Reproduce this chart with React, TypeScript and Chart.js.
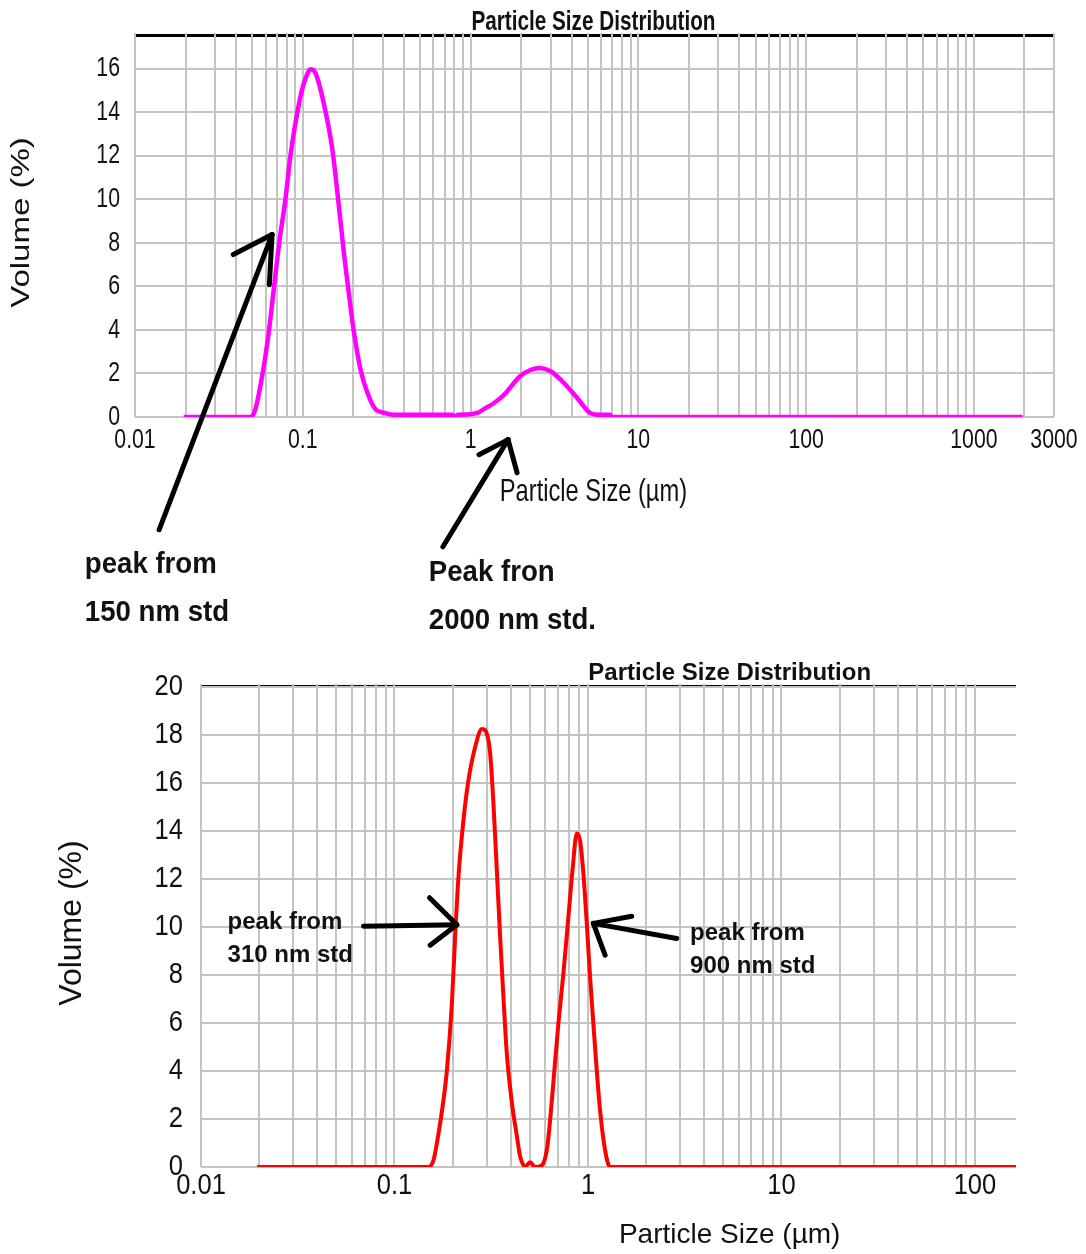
import React, { useEffect, useRef } from "react";
import { Chart, registerables } from "chart.js";

Chart.register(...registerables);

// ---- Upper measurement (150 nm + 2000 nm standards) ----
const upperSizes = [
  0.0195, 0.0487, 0.0521, 0.0585, 0.0626, 0.0671, 0.0728, 0.0788, 0.0844, 0.0904,
  0.0991, 0.105, 0.111, 0.119, 0.1334, 0.15, 0.164, 0.176, 0.188, 0.202,
  0.221, 0.243, 0.272, 0.304, 0.348, 0.78, 0.8, 0.84, 0.96, 1.107,
  1.208, 1.367, 1.52, 1.64, 1.97, 2.29, 2.58, 3.0, 3.6, 4.32,
  5.17, 5.85, 6.8, 6.9, 1950,
];
const upperVolumes = [
  0, 0, 0.34, 2.3, 3.86, 5.85, 8.15, 10.0, 12.0, 13.5,
  15.05, 15.65, 15.97, 15.8, 14.4, 12.3, 9.7, 7.5, 5.7, 3.87,
  2.17, 1.1, 0.34, 0.2, 0.1, 0.1, 0.0, 0.1, 0.12, 0.2,
  0.38, 0.62, 0.9, 1.15, 1.87, 2.17, 2.25, 2.1, 1.56, 0.87,
  0.18, 0.1, 0.1, 0, 0,
];
const upperYTicks = [0, 2, 4, 6, 8, 10, 12, 14, 16];
const upperXTickLabels = [0.01, 0.1, 1, 10, 100, 1000, 3000];

// ---- Lower measurement (310 nm + 900 nm standards) ----
const lowerSizes = [
  0.0195, 0.1498, 0.159, 0.1688, 0.1791, 0.1866, 0.198, 0.2058, 0.2141, 0.2272,
  0.2412, 0.2612, 0.2828, 0.2941, 0.3121, 0.3246, 0.338, 0.3516, 0.3656, 0.3807,
  0.4041, 0.4288, 0.4461, 0.4734, 0.5023, 0.5332, 0.5774, 0.6128, 0.6373, 0.6628,
  0.7033, 0.7463, 0.7923, 0.8347, 0.8751, 0.9103, 0.9468, 0.9858, 1.025, 1.066,
  1.11, 1.155, 1.226, 1.3, 163,
];
const lowerVolumes = [
  0, 0, 0.28, 1.39, 2.78, 4.03, 6.81, 9.59, 12.09, 14.45,
  16.12, 17.5, 18.25, 18.2, 17.24, 15.15, 12.37, 9.59, 7.09, 4.73,
  2.7, 1.3, 0.45, 0.02, 0.2, 0, 0.07, 0.7, 1.95, 3.55,
  5.98, 8.06, 10.42, 12.5, 13.9, 13.6, 12.23, 10.15, 7.92, 5.98,
  4.03, 2.36, 0.7, 0, 0,
];
const lowerYTicks = [0, 2, 4, 6, 8, 10, 12, 14, 16, 18, 20];
const lowerXTickLabels = [0.01, 0.1, 1, 10, 100];

const WIDTH = 1086;
const SANS = '"Liberation Sans", Arial, Helvetica, sans-serif';
const GRID = "#c4c4c4";
const INK = "#111111";

type Pt = [number, number];
interface Arrow { tail: Pt; tip: Pt; barbs: Pt[] }
interface Note { text: string; at: Pt }
interface TextSpec { text: string; font: string; squeeze: number }

interface PanelSpec {
  top: number;
  height: number;
  area: { left: number; top: number; right: number; bottom: number };
  sizes: number[];
  volumes: number[];
  color: string;
  lineWidth: number;
  xMin: number;
  xMax: number;
  yMax: number;
  yTicks: number[];
  xTickLabels: number[];
  tickFont: string;
  tickSqueeze: number;
  xTickDy: number; // centre of x tick labels below the plot
  yTickGap: number; // gap between y tick labels and the plot
  centerX: number; // data value on which the titles are centred
  title: TextSpec & { dy: number };
  xTitle: TextSpec & { dy: number };
  yTitle: TextSpec & { dx: number; dy: number };
  arrows: Arrow[];
  notes: Note[];
  noteFont: string;
  noteSqueeze: number;
}

function logGrid(min: number, max: number): number[] {
  const out: number[] = [];
  for (let e = Math.floor(Math.log10(min)); e <= Math.ceil(Math.log10(max)); e++) {
    for (let m = 1; m <= 9; m++) {
      const v = parseFloat((m * Math.pow(10, e)).toPrecision(6));
      if (v >= min * 0.9999 && v <= max * 1.0001) out.push(v);
    }
  }
  return out;
}

function drawText(
  ctx: CanvasRenderingContext2D,
  t: TextSpec,
  x: number,
  y: number,
  align: CanvasTextAlign,
  rotate = 0
) {
  ctx.save();
  ctx.translate(x, y);
  ctx.scale(t.squeeze, 1);
  if (rotate) ctx.rotate(rotate);
  ctx.font = t.font;
  ctx.fillStyle = INK;
  ctx.textAlign = align;
  ctx.textBaseline = "middle";
  ctx.fillText(t.text, 0, 0);
  ctx.restore();
}

function decorations(spec: PanelSpec) {
  return {
    id: "panelDecor",
    beforeDraw(chart: any) {
      const { ctx, chartArea: a } = chart;
      ctx.save();
      ctx.strokeStyle = "#000";
      ctx.lineWidth = 3;
      ctx.beginPath();
      ctx.moveTo(a.left, a.top - 0.5);
      ctx.lineTo(a.right, a.top - 0.5);
      ctx.stroke();
      ctx.restore();
    },
    beforeDatasetsDraw(chart: any) {
      // vertical grid lines cut through the black frame line
      const { ctx, chartArea: a } = chart;
      const xs = chart.scales.x;
      ctx.save();
      ctx.strokeStyle = GRID;
      ctx.lineWidth = 2;
      for (const t of xs.ticks) {
        const p = Math.round(xs.getPixelForValue(t.value));
        ctx.beginPath();
        ctx.moveTo(p, a.top - 3);
        ctx.lineTo(p, a.top + 2);
        ctx.stroke();
      }
      ctx.restore();
    },
    afterDraw(chart: any) {
      const { ctx, chartArea: a } = chart;
      const xs = chart.scales.x;
      const ys = chart.scales.y;
      const px = (v: number) => xs.getPixelForValue(v);
      const py = (v: number) => ys.getPixelForValue(v);
      const cx = px(spec.centerX);

      // tick labels, placed on the scale positions
      for (const v of spec.xTickLabels) {
        drawText(
          ctx,
          { text: String(v), font: spec.tickFont, squeeze: spec.tickSqueeze },
          px(v),
          a.bottom + spec.xTickDy,
          "center"
        );
      }
      for (const t of ys.ticks) {
        drawText(
          ctx,
          { text: String(t.value), font: spec.tickFont, squeeze: spec.tickSqueeze },
          a.left - spec.yTickGap,
          py(t.value),
          "right"
        );
      }

      drawText(ctx, spec.title, cx, a.top + spec.title.dy, "center");
      drawText(ctx, spec.xTitle, cx, a.bottom + spec.xTitle.dy, "center");
      drawText(
        ctx,
        spec.yTitle,
        a.left + spec.yTitle.dx,
        (a.top + a.bottom) / 2 + spec.yTitle.dy,
        "center",
        -Math.PI / 2
      );

      ctx.save();
      ctx.strokeStyle = "#000";
      ctx.lineWidth = 5;
      ctx.lineCap = "round";
      ctx.lineJoin = "round";
      for (const ar of spec.arrows) {
        const tip: Pt = [px(ar.tip[0]), py(ar.tip[1])];
        ctx.beginPath();
        ctx.moveTo(px(ar.tail[0]), py(ar.tail[1]));
        ctx.lineTo(tip[0], tip[1]);
        ctx.stroke();
        for (const b of ar.barbs) {
          ctx.beginPath();
          ctx.moveTo(px(b[0]), py(b[1]));
          ctx.lineTo(tip[0], tip[1]);
          ctx.stroke();
        }
      }
      ctx.restore();

      for (const n of spec.notes) {
        drawText(
          ctx,
          { text: n.text, font: spec.noteFont, squeeze: spec.noteSqueeze },
          px(n.at[0]),
          py(n.at[1]),
          "left"
        );
      }
    },
  };
}

function buildConfig(spec: PanelSpec): any {
  const a = spec.area;
  const gridValues = logGrid(spec.xMin, spec.xMax);
  return {
    type: "line",
    data: {
      datasets: [
        {
          data: spec.sizes.map((x, i) => ({ x, y: spec.volumes[i] })),
          borderColor: spec.color,
          borderWidth: spec.lineWidth,
          pointRadius: 0,
          cubicInterpolationMode: "monotone",
          fill: false,
        },
      ],
    },
    options: {
      animation: false,
      responsive: false,
      events: [],
      layout: { padding: { left: 0, top: a.top, right: WIDTH - a.right, bottom: 0 } },
      plugins: {
        legend: { display: false },
        title: { display: false },
        tooltip: { enabled: false },
      },
      scales: {
        x: {
          type: "logarithmic",
          min: spec.xMin,
          max: spec.xMax,
          afterBuildTicks: (s: any) => {
            s.ticks = gridValues.map((value) => ({ value }));
          },
          afterFit: (s: any) => {
            s.height = spec.height - a.bottom;
          },
          grid: { color: GRID, lineWidth: 2, drawTicks: false },
          border: { display: false },
          ticks: { display: false, autoSkip: false, maxRotation: 0, minRotation: 0 },
        },
        y: {
          type: "linear",
          min: 0,
          max: spec.yMax,
          afterBuildTicks: (s: any) => {
            s.ticks = spec.yTicks.map((value) => ({ value }));
          },
          afterFit: (s: any) => {
            s.width = a.left;
          },
          grid: { color: GRID, lineWidth: 2, drawTicks: false },
          border: { display: false },
          ticks: { display: false },
        },
      },
    },
    plugins: [decorations(spec)],
  };
}

const upperPanel: PanelSpec = {
  top: 0,
  height: 640,
  area: { left: 135, top: 36, right: 1054, bottom: 417 },
  sizes: upperSizes,
  volumes: upperVolumes,
  color: "#ff00ff",
  lineWidth: 4.5,
  xMin: 0.01,
  xMax: 3000,
  yMax: 17.5,
  yTicks: upperYTicks,
  xTickLabels: upperXTickLabels,
  tickFont: `28px ${SANS}`,
  tickSqueeze: 0.76,
  xTickDy: 23,
  yTickGap: 15,
  centerX: 5.4,
  title: { text: "Particle Size Distribution", font: `bold 28px ${SANS}`, squeeze: 0.74, dy: -14 },
  xTitle: { text: "Particle Size (µm)", font: `32px ${SANS}`, squeeze: 0.74, dy: 75 },
  yTitle: { text: "Volume (%)", font: `33px ${SANS}`, squeeze: 0.8, dx: -113, dy: -4 },
  arrows: [
    { tail: [0.01392, -5.18], tip: [0.0656, 8.38], barbs: [[0.03853, 7.46], [0.0632, 6.08]] },
    { tail: [0.684, -5.96], tip: [1.673, -1.04], barbs: [[1.122, -1.73], [1.893, -2.56]] },
  ],
  notes: [
    { text: "peak from", at: [0.005024, -6.79] },
    { text: "150 nm std", at: [0.005024, -9.0] },
    { text: "Peak fron", at: [0.5638, -7.16] },
    { text: "2000 nm std.", at: [0.5638, -9.37] },
  ],
  noteFont: `bold 30px ${SANS}`,
  noteSqueeze: 0.92,
};

const lowerPanel: PanelSpec = {
  top: 640,
  height: 614,
  area: { left: 201, top: 47, right: 1016, bottom: 527 },
  sizes: lowerSizes,
  volumes: lowerVolumes,
  color: "#ff0000",
  lineWidth: 4,
  xMin: 0.01,
  xMax: 163,
  yMax: 20,
  yTicks: lowerYTicks,
  xTickLabels: lowerXTickLabels,
  tickFont: `29px ${SANS}`,
  tickSqueeze: 0.88,
  xTickDy: 19,
  yTickGap: 18,
  centerX: 5.4,
  title: { text: "Particle Size Distribution", font: `bold 24px ${SANS}`, squeeze: 1, dy: -14 },
  xTitle: { text: "Particle Size (µm)", font: `28px ${SANS}`, squeeze: 1, dy: 68 },
  yTitle: { text: "Volume (%)", font: `32px ${SANS}`, squeeze: 1, dx: -129, dy: -4 },
  arrows: [
    { tail: [0.06918, 10.03], tip: [0.2101, 10.09], barbs: [[0.1517, 11.22], [0.1529, 9.24]] },
    { tail: [2.875, 9.52], tip: [1.066, 10.15], barbs: [[1.684, 10.45], [1.226, 8.83]] },
  ],
  notes: [
    { text: "peak from", at: [0.01372, 10.21] },
    { text: "310 nm std", at: [0.01372, 8.83] },
    { text: "peak from", at: [3.37, 9.73] },
    { text: "900 nm std", at: [3.37, 8.34] },
  ],
  noteFont: `bold 24px ${SANS}`,
  noteSqueeze: 1,
};

function Panel({ spec }: { spec: PanelSpec }) {
  const ref = useRef<HTMLCanvasElement | null>(null);
  useEffect(() => {
    if (!ref.current) return;
    const chart = new Chart(ref.current, buildConfig(spec));
    return () => chart.destroy();
  }, [spec]);
  return (
    <div style={{ position: "absolute", left: 0, top: spec.top, width: WIDTH, height: spec.height }}>
      <canvas ref={ref} width={WIDTH} height={spec.height} style={{ display: "block" }} />
    </div>
  );
}

export default function App() {
  return (
    <div
      style={{
        position: "absolute",
        left: 0,
        top: 0,
        width: WIDTH,
        height: 1254,
        background: "#ffffff",
        overflow: "hidden",
      }}
    >
      <Panel spec={upperPanel} />
      <Panel spec={lowerPanel} />
    </div>
  );
}
